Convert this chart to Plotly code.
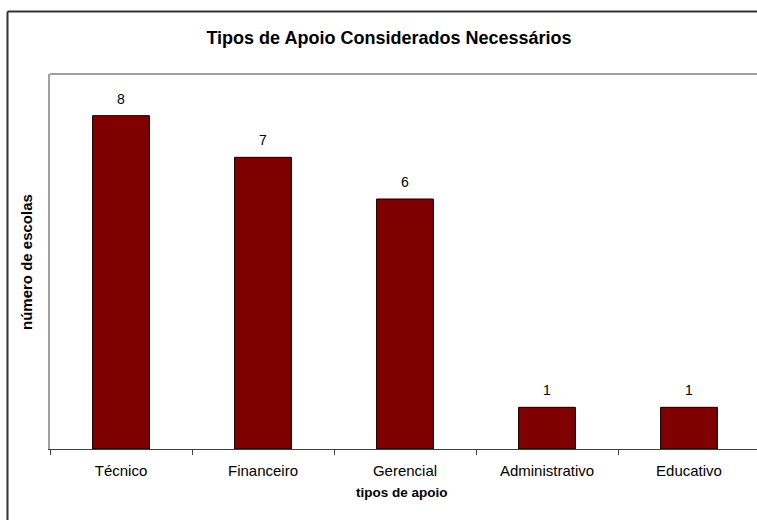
import plotly.graph_objects as go

categorias = ["Técnico", "Financeiro", "Gerencial", "Administrativo", "Educativo"]
escolas = [8, 7, 6, 1, 1]

W, H = 757, 520
L, R, T, B = 50, 0, 74, 71
plot_h = H - T - B
plot_w = W - L - R


def py(p):
    """pixel row -> paper y"""
    return (H - B - p) / plot_h


def px(p):
    """pixel column -> paper x"""
    return (p - L) / plot_w


fig = go.Figure(
    go.Bar(
        x=categorias,
        y=escolas,
        width=0.4,
        marker=dict(color="#800000", line=dict(color="#000000", width=1)),
        hoverinfo="x+y",
    )
)

annotations = [
    dict(x=c, y=v, xref="x", yref="y", text=str(v), showarrow=False,
         xanchor="center", yanchor="middle",
         yshift=17, font=dict(size=14, color="#000000"))
    for c, v in zip(categorias, escolas)
]
annotations += [
    dict(x=px(402), y=py(492), xref="paper", yref="paper", text="<b>tipos de apoio</b>",
         xanchor="center", yanchor="middle",
         showarrow=False, font=dict(size=13.5, color="#000000")),
    dict(x=px(26), y=py(262), xref="paper", yref="paper", text="<b>número de escolas</b>",
         xanchor="center", yanchor="middle",
         showarrow=False, textangle=-90, font=dict(size=15, color="#000000")),
]

frame = dict(color="#333333", width=2)
shapes = [
    # plot area top edge
    dict(type="line", xref="paper", yref="paper", x0=0, x1=1, y0=1, y1=1,
         line=dict(color="#a0a0a0", width=2)),
    # outer chart frame (left and top edges)
    dict(type="line", xref="paper", yref="paper", x0=px(7.5), x1=px(7.5),
         y0=py(11.5), y1=py(H), line=frame),
    dict(type="line", xref="paper", yref="paper", x0=px(7.5), x1=1,
         y0=py(11.5), y1=py(11.5), line=frame),
]

fig.update_layout(
    width=W,
    height=H,
    margin=dict(l=L, r=R, t=T, b=B, pad=0),
    paper_bgcolor="white",
    plot_bgcolor="white",
    font=dict(family="Liberation Sans, Arial, sans-serif", size=14, color="#000000"),
    title=dict(text="<b>Tipos de Apoio Considerados Necessários</b>",
               x=389 / W, xref="container", xanchor="center",
               y=1 - 38 / H, yref="container", yanchor="middle",
               font=dict(size=18, color="#000000")),
    showlegend=False,
    annotations=annotations,
    shapes=shapes,
    xaxis=dict(
        type="category",
        range=[-0.5, -0.5 + plot_w / 142],
        showline=True, linecolor="#404040", linewidth=1,
        ticks="outside", tickson="boundaries", ticklen=5, tickcolor="#404040", tickwidth=1,
        showgrid=False, zeroline=False,
        tickfont=dict(size=15, color="#000000"),
        ticklabelstandoff=8,
    ),
    yaxis=dict(
        range=[0, 9],
        showline=True, linecolor="#a0a0a0", linewidth=2,
        showticklabels=False, ticks="", showgrid=False, zeroline=False,
    ),
)

fig.write_html("out.html", config={"displayModeBar": False})
